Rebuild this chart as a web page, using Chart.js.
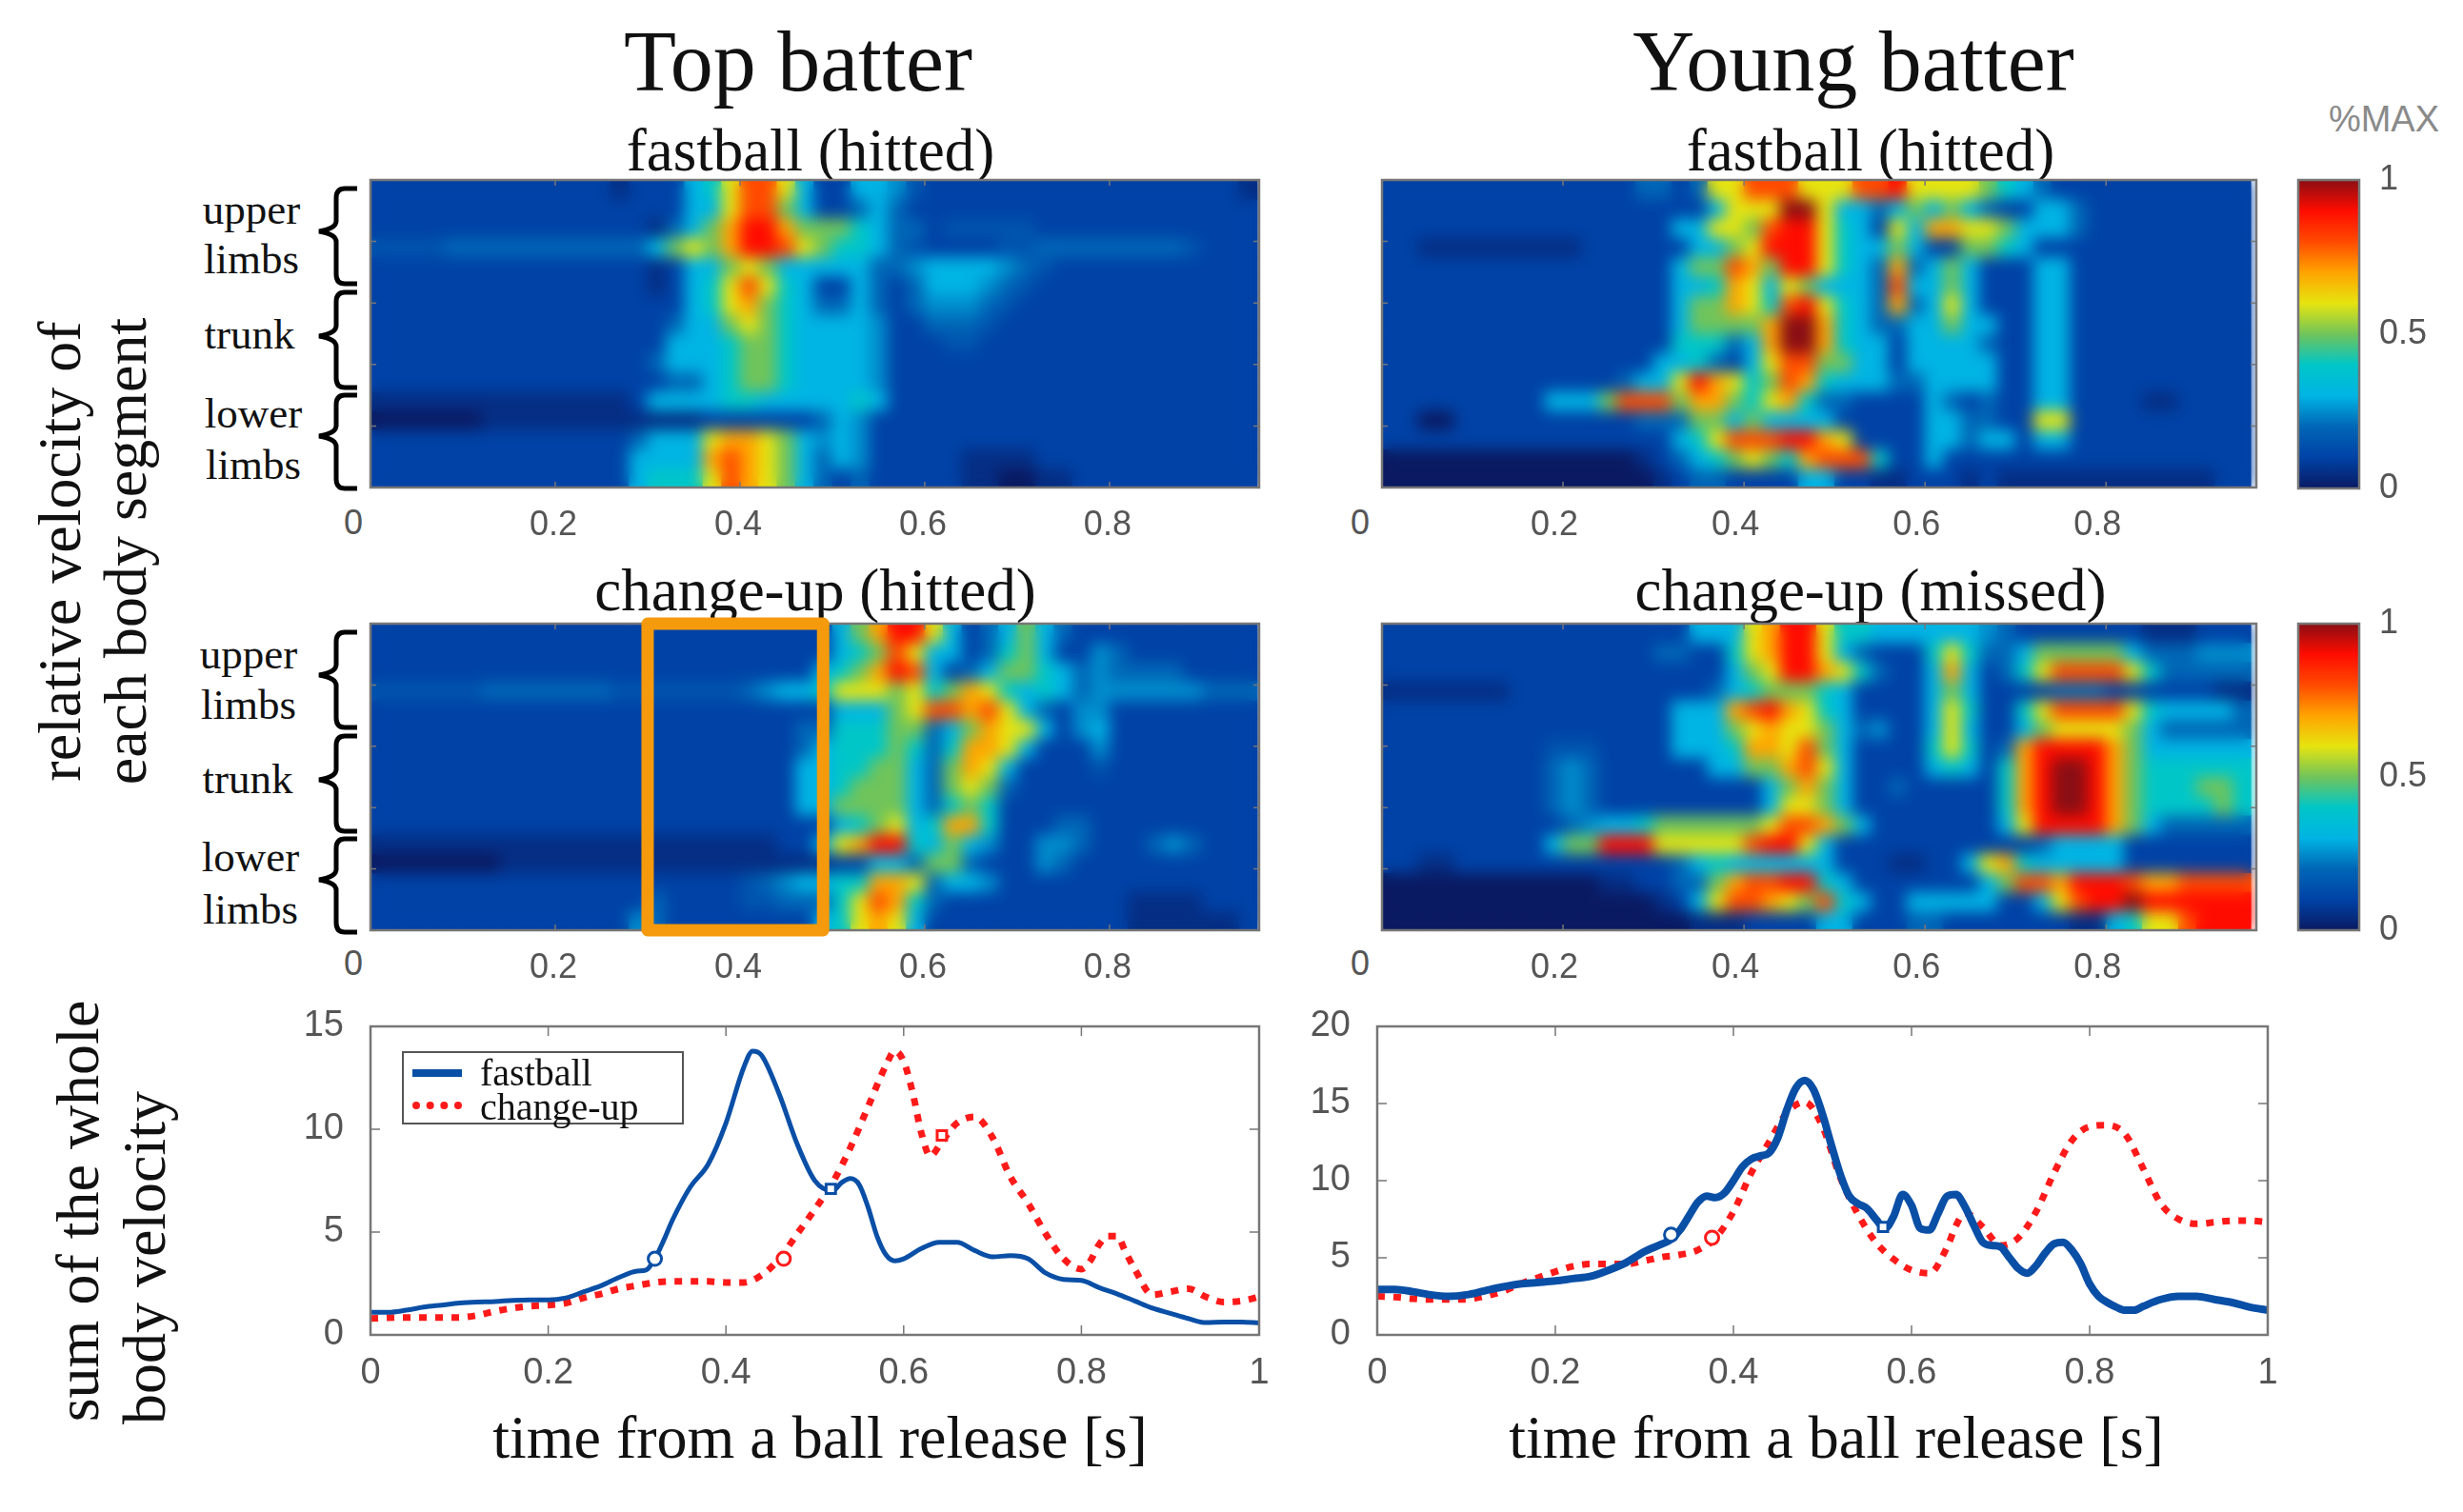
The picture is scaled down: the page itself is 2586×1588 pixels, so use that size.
<!DOCTYPE html>
<html>
<head>
<meta charset="utf-8">
<title>Top batter vs Young batter</title>
<script src="https://cdn.jsdelivr.net/npm/chart.js@4"></script>
<style>
html, body { margin:0; padding:0; background:#fff; overflow:hidden; }
#page { position:relative; width:2586px; height:1588px; font-family:"Liberation Serif",serif; color:#111; }
canvas { position:absolute; }
.t { position:absolute; transform:translate(-50%,-50%); white-space:nowrap; line-height:1; }
.v { position:absolute; transform:translate(-50%,-50%) rotate(-90deg); white-space:nowrap; line-height:1; font-size:64px; }
.main { font-size:90px; }
.sub { font-size:63px; }
.part { font-size:45px; }
.xt { font-size:64px; }
.zero { font-family:"Liberation Sans",sans-serif; font-size:36px; color:#555; }
#legendBox { position:absolute; left:422px; top:1104px; width:292px; height:73px; border:2px solid #555; background:#fff; }
#legendBox i { position:absolute; left:9px; width:52px; }
#legendBox span { position:absolute; left:80px; font-size:40px; line-height:1; }
svg { position:absolute; left:0; top:0; }
</style>
</head>
<body>
<div id="page">
  <svg width="2586" height="1588" fill="none" stroke="#000" stroke-width="5">
    <g id="braces">
      <path d="M375,198 H362 Q353,198 353,208 V232 Q353,240 335,243 Q353,246 353,254 V288 Q353,298 362,298 H375"/>
      <path d="M375,307 H362 Q353,307 353,317 V342 Q353,350 335,353 Q353,356 353,364 V397 Q353,407 362,407 H375"/>
      <path d="M375,415 H362 Q353,415 353,425 V447 Q353,455 335,458 Q353,461 353,469 V503 Q353,513 362,513 H375"/>
    </g>
    <use href="#braces" y="466"/>
  </svg>

  <div class="t main" style="left:838px;top:65px">Top batter</div>
  <div class="t main" style="left:1946px;top:65px">Young batter</div>
  <div class="t sub" style="left:851px;top:158px">fastball (hitted)</div>
  <div class="t sub" style="left:1964px;top:158px">fastball (hitted)</div>
  <div class="t sub" style="left:856px;top:620px">change-up (hitted)</div>
  <div class="t sub" style="left:1964px;top:620px">change-up (missed)</div>

  <div class="t part" style="left:264px;top:220px">upper</div>
  <div class="t part" style="left:264px;top:272px">limbs</div>
  <div class="t part" style="left:262px;top:351px">trunk</div>
  <div class="t part" style="left:266px;top:434px">lower</div>
  <div class="t part" style="left:266px;top:488px">limbs</div>
  <div class="t part" style="left:261px;top:687px">upper</div>
  <div class="t part" style="left:261px;top:740px">limbs</div>
  <div class="t part" style="left:260px;top:818px">trunk</div>
  <div class="t part" style="left:263px;top:900px">lower</div>
  <div class="t part" style="left:263px;top:955px">limbs</div>

  <div class="v" style="left:63px;top:579px">relative velocity of</div>
  <div class="v" style="left:132px;top:579px">each body segment</div>
  <div class="v" style="left:82px;top:1272px">sum of the whole</div>
  <div class="v" style="left:152px;top:1321px">body velocity</div>

  <div class="t xt" style="left:861px;top:1510px">time from a ball release [s]</div>
  <div class="t xt" style="left:1928px;top:1510px">time from a ball release [s]</div>

  <div class="t zero" style="left:371px;top:549px">0</div>
  <div class="t zero" style="left:1428px;top:549px">0</div>
  <div class="t zero" style="left:371px;top:1012px">0</div>
  <div class="t zero" style="left:1428px;top:1012px">0</div>

  <div class="t" style="left:2503px;top:125px;font-family:'Liberation Sans',sans-serif;font-size:38px;color:#8a8a8a">%MAX</div>

  <canvas id="heatTopFast"></canvas>
  <canvas id="heatYoungFast"></canvas>
  <canvas id="heatTopChange"></canvas>
  <canvas id="heatYoungChange"></canvas>
  <canvas id="barUpper"></canvas>
  <canvas id="barLower"></canvas>
  <canvas id="lineTop"></canvas>
  <canvas id="lineYoung"></canvas>

  <div id="legendBox">
    <i style="top:17px;height:8px;background:#0a4fa6"></i>
    <i style="top:51px;height:0;border-top:8px dotted #ff1a1a"></i>
    <span style="top:1px">fastball</span>
    <span style="top:37px">change-up</span>
  </div>
</div>

<script>
// colour of each %MAX level in tenths (0 = 0.0 ... 10 = 1.0)
const jetColors = [[10,26,98],[0,66,166],[0,102,182],[0,180,228],[0,198,200],[112,196,90],[230,228,16],[255,164,0],[255,74,0],[255,12,0],[138,14,20]];

// heatmaps: 16 body-segment rows, 48 time columns of 0.02 s, values in tenths of %MAX
const topFastCells = [
[1,1,1,1,1,1,1,1, 1,1,1,1,1,.5,1,1, 1,3,4,6,8,8,6,3, 1,1,3,3,2.5,1.5,1,1, 1,1,1,1,1,1,1,1, 1,1,1,1,1,1,1,.5],
[1,1,1,1,1,1,1,1, 1,1,1,1,1,1,1,1, 1,3,3,6,8,8,5,3, 1,1,2,3,2,1,1,1, 1,1,1,1,1,1,1,1, 1,1,1,1,1,1,1,1],
[1,1,1,1,1,1,1,1, 1,1,1,1,1,1,1,.5, 2,3,5,7,9,9,7,5, 5,5,4,3,2,2,1,1.5, 1.5,1.5,1.5,1.5,1,1,1,1, 1,1,1,1,1,1,1,1],
[1.5,1.5,1.5,1.5,2,2,2,2, 2,2,2,2,2,2,2,3, 5,6,5,7,9,9,8,6, 5,4,4,3,2,1.5,1,1, 1,1,1.5,1.5,2,2,2,2, 2,2,2,2,1.5,1,1,1],
[1,1,1,1,1,1,1,1, 1,1,1,1,1,1,1,.5, 1,3,3,5,6,5,3,3, 3,3,3,2,2,2.5,3,3, 3,3,2.5,2,1.5,1,1,1, 1,1,1,1,1,1,1,1],
[1,1,1,1,1,1,1,1, 1,1,1,1,1,1,1,.5, 1,3,4,6,8,6,4,3, 1,1,3,2,1,2,3,3, 3,2.5,2,1.5,1,1,1,1, 1,1,1,1,1,1,1,1],
[1,1,1,1,1,1,1,1, 1,1,1,1,1,1,1,1, 1,3,4,6,7,5,4,3, 2,2,3,2,1,2,2.5,2.5, 2.5,2,1.5,1,1,1,1,1, 1,1,1,1,1,1,1,1],
[1,1,1,1,1,1,1,1, 1,1,1,1,1,1,1,1, 2,3,3,5,6,5,4,3, 3,3,3,2.5,1,1,2,2, 2,1.5,1,1,1,1,1,1, 1,1,1,1,1,1,1,1],
[1,1,1,1,1,1,1,1, 1,1,1,1,1,1,1,1, 3,3,3,4,5,5,4,3, 3,3,3,2.5,1,1,1,1.5, 1.5,1,1,1,1,1,1,1, 1,1,1,1,1,1,1,1],
[1,1,1,1,1,1,1,1, 1,1,1,1,1,1,1,2, 3,3,3,4,5,5,4,3, 3,3,3,2.5,1,1,1,1, 1,1,1,1,1,1,1,1, 1,1,1,1,1,1,1,1],
[1,1,1,1,1,1,1,1, 1,1,1,1,1,1,1,1, 2,2,3,4,5,5,4,3, 3,3,3,2.5,1,1,1,1, 1,1,1,1,1,1,1,1, 1,1,1,1,1,1,1,1],
[.5,.5,.5,.5,.5,.5,.5,.5, .5,.5,.5,.5,.5,.5,1,3, 3,3,3,4,4,3,3,3, 3,3,4,3,1,1,1,1, 1,1,1,1,1,1,1,1, 1,1,1,1,1,1,1,1],
[0,0,0,0,0,0,.5,.5, .5,.5,.5,.5,.5,.5,.5,.5, .5,.5,1,1,1,1,1,1, 2,3,2.5,1,1,1,1,1, 1,1,1,1,1,1,1,1, 1,1,1,1,1,1,1,1],
[1,1,1,1,1,1,1,1, 1,1,1,1,1,1,2,3, 3,3,6,7,7,6,5,3, 2.5,3,2.5,1,1,1,1,1, 1,1,1,1,1,1,1,1, 1,1,1,1,1,1,1,1],
[1,1,1,1,1,1,1,1, 1,1,1,1,1,1,3,3, 3,3,7,8,7,6,5,3, 2,3,2.5,1,1,1,1,1, .5,.5,.5,.5,1,1,1,1, 1,1,1,1,1,1,1,1],
[1,1,1,1,1,1,1,1, 1,1,1,1,1,1,3,4, 4,4,6,8,7,6,5,3, 2,1,2,1,1,1,1,1, .5,.5,0,0,.5,.5,1,1, 1,1,1,1,1,1,1,1]
];
const youngFastCells = [
[1,1,1,1,1,1,1,1, 1,1,1,1,1,1,2,2, 1,2,6,6,8,8,8,6, 6,6,8,8,9,6,6,6, 6,5,4,3,2,1,1,1, 1,1,1,1,1,1,1,1],
[1,1,1,1,1,1,1,1, 1,1,1,1,1,1,1,1, 1,1,3,6,6,6,10,10, 6,3,3,2,3,5,3,5, 3,2,1,1,3,3,2,1, 1,1,1,1,1,1,1,1],
[1,1,1,1,1,1,1,1, 1,1,1,1,1,1,1,1, 3,3,6,6,5,8,9,9, 6,4,3,1,6,3,7,7, 6,6,5,3,3,3,2,1, 1,1,1,1,1,1,1,1],
[1,1,.5,.5,.5,.5,.5,.5, .5,.5,.5,1,1,1,1,1, 1,3,3,5,6,9,9,9, 6,4,3,3,5,3,1,1, 5,5,4,3,1,1,1,1, 1,1,1,1,1,1,1,1],
[1,1,1,1,1,1,1,1, 1,1,1,1,1,1,1,1, 3,5,5,8,7,5,9,9, 6,4,3,2,7,2,3,5, 3,1,1,1,3,3,1,1, 1,1,1,1,1,1,1,1],
[1,1,1,1,1,1,1,1, 1,1,1,1,1,1,1,1, 3,3,4,7,6,3,6,5, 3,3,3,2,8,3,3,5, 3,1,1,1,3,3,1,1, 1,1,1,1,1,1,1,1],
[1,1,1,1,1,1,1,1, 1,1,1,1,1,1,1,1, 3,5,5,7,6,4,8,9, 6,4,3,2,7,2,3,6, 3,1,1,1,3,3,1,1, 1,1,1,1,1,1,1,1],
[1,1,1,1,1,1,1,1, 1,1,1,1,1,1,1,1, 3,5,5,5,5,7,10,10, 7,4,3,2,2,3,3,5, 3,3,1,1,3,3,1,1, 1,1,1,1,1,1,1,1],
[1,1,1,1,1,1,1,1, 1,1,1,1,1,1,1,1, 4,4,4,2,3,7,10,10, 7,4,3,3,1,3,3,3, 3,2,1,1,3,3,1,1, 1,1,1,1,1,1,1,1],
[1,1,1,1,1,1,1,1, 1,1,1,1,1,1,1,3, 3,4,2,1,3,6,8,8, 5,5,3,3,1,3,3,3, 3,3,1,1,3,3,1,1, 1,1,1,1,1,1,1,1],
[1,1,1,1,1,1,1,1, 1,1,1,1,1,2,3,3, 6,9,7,6,4,5,8,7, 4,3,3,3,2,2,3,3, 3,3,1,1,3,3,1,1, 1,1,1,1,1,1,1,1],
[1,1,1,1,1,1,1,1, 1,3,3,3,5,8,8,8, 5,7,7,5,4,6,7,4, 2,2,1,1,1,1,3,2, 1,2,1,1,3,3,1,1, 1,1,.5,.5,1,1,1,1],
[1,1,0,0,1,1,1,1, 1,1,1,1,1,1,2,2, 2,5,5,3,5,3,3,3, 3,1,1,1,1,1,3,3, 2,2,1,1,6,6,1,1, 1,1,1,1,1,1,1,1],
[1,1,1,1,1,1,1,1, 1,1,1,1,1,1,1,1, 3,4,6,8,8,8,9,9, 7,6,1,1,1,1,3,3, 2,3,3,1,3,3,1,1, 1,1,1,1,1,1,1,1],
[0,0,0,0,0,0,0,0, 0,0,0,0,0,0,.5,1, 2,3,4,5,6,5,4,7, 8,8,8,4,1,1,3,1, 1,1,1,1,1,1,1,1, 1,1,1,1,1,1,1,1],
[0,0,0,0,0,0,0,0, 0,0,0,0,0,0,0,.5, 1,2,2,1,1,1,1,3, 3,1,1,.5,.5,1,1,1, .5,1,.5,.5,.5,.5,.5,.5, .5,.5,.5,.5,.5,.5,1,1]
];
const topChangeCells = [
[1,1,1,1,1,1,1,1, 1,1,1,1,1,1,1,1, 1,1,1,1,1,1,1,1, 1,3,5,7,9,9,6,3, 1,2,3,5,3,2,1,1, 1,1,1,1,1,1,1,1],
[1,1,1,1,1,1,1,1, 1,1,1,1,1,1,1,1, 1,1,1,1,1,1,1,1, 1,3,4,5,8,6,3,3, 1,2,4,5,3,1,1,2.5, 2,1,1,1,1,1,1,1],
[1,1,1,1,1,1,1,1, 1,1,1,1,1,1,1,1, 1,1,1,1,1,1,1,1, 3,4,5,7,9,8,3,1, 2,3,5,5,4,3,2,2.5, 2,2,2,2,1,1,1,1],
[1.5,1.5,1.5,1.5,1.5,1.5,2,2, 2,2,2,2,2,1.5,1.5,1.5, 1.5,1.5,1.5,1.5,2,2.5,3,3, 4,6,6,6,5,6,4,5, 7,6,4,3,4,3,2,2.5, 2.5,2.5,2.5,2.5,2.5,2,2,2],
[1,1,1,1,1,1,1,1, 1,1,1,1,1,1,1,1, 1,1,1,1,1,1,1,1, 1,3,3,3,5,6,8,8, 7,8,6,3,2,1,2.5,2.5, 1,1,1,1,1,1,1,1],
[1,1,1,1,1,1,1,1, 1,1,1,1,1,1,1,1, 1,1,1,1,1,1,1,2, 2,4,4,4,5,5,2,3, 5,7,6,6,3,1,2.5,3, 1,1,1,1,1,1,1,1],
[1,1,1,1,1,1,1,1, 1,1,1,1,1,1,1,1, 1,1,1,1,1,1,1,2, 3,4,4,4,5,4,2,4, 7,7,6,3,1,1,1,2.5, 1,1,1,1,1,1,1,1],
[1,1,1,1,1,1,1,1, 1,1,1,1,1,1,1,1, 1,1,1,1,1,1,1,3, 3,4,4,5,5,3,2,5, 7,6,3,1,1,1,1,1.5, 1,1,1,1,1,1,1,1],
[1,1,1,1,1,1,1,1, 1,1,1,1,1,1,1,1, 1,1,1,1,1,1,1,3, 3,4,5,5,5,3,2,5, 6,5,2,1,1,1,1,1, 1,1,1,1,1,1,1,1],
[1,1,1,1,1,1,1,1, 1,1,1,1,1,1,1,1, 1,1,1,1,1,1,1,3, 3,5,5,5,5,3,2,4, 5,4,1,1,1,1,1,1, 1,1,1,1,1,1,1,1],
[1,1,1,1,1,1,1,1, 1,1,1,1,1,1,1,1, 1,1,1,1,1,1,1,1, 1,3,4,5,6,3,4,7, 7,4,1,1,1,2,2,1, 1,1,1,1,1,1,1,1],
[.5,.5,.5,.5,.5,.5,.5,.5, .5,.5,.5,.5,.5,.5,.5,.5, .5,.5,.5,.5,.5,.5,1,1, 3,6,7,9,9,4,3,5, 3,2.5,1,1,2.5,2.5,2,1, 1,1,2,2.5,2,1,1,1],
[0,0,0,0,0,0,0,.5, .5,.5,.5,.5,.5,.5,.5,.5, .5,.5,.5,.5,.5,.5,.5,.5, .5,1,1,3,3,2,5,5, 2,1,1,1,2.5,2,1,1, 1,1,1,1,1,1,1,1],
[1,1,1,1,1,1,1,1, 1,1,1,1,1,1,1,1, 1,1,1,1,1.5,2,2.5,3, 3,4,4,7,7,6,2,3, 3,2.5,1,1,1,1,1,1, 1,1,1,1,1,1,1,1],
[1,1,1,1,1,1,1,1, 1,1,1,1,1,1,1,2, 1,1,1,1,1.5,1.5,2,2, 2,4,6,8,7,4,2,1, 1,1,1,1,1,1,1,1, 1,.5,.5,.5,.5,1,1,1],
[1,1,1,1,1,1,1,1, 1,1,1,1,1,1,2.5,2, 1,1,1,1,1,1,1,1, 3,4,6,7,6,3,1,1, 1,1,1,1,1,1,1,1, 1,.5,.5,.5,.5,.5,.5,1]
];
const youngChangeCells = [
[1,1,1,1,1,1,1,1, 1,1,1,1,1,1,1,1, 1,3,3,3,6,7,9,9, 6,4,4,3,3,3,3,3, 3,2.5,2,1,1,1,1,1, 1,1,.5,.5,.5,1,1,1],
[1,1,1,1,1,1,1,1, 1,1,1,1,1,1,1,2, 2,1,1,4,6,7,9,9, 6,3,2,1,1,1,4,6, 4,2,2,3,5,5,5,5, 5,3,2,2,2,2.5,2.5,2.5],
[1,1,1,1,1,1,1,1, 1,1,1,1,1,1,1,1, 1,1,1,3,5,6,9,9, 7,6,4,2,1,1,3,7, 3,1,2,4,6,8,8,8, 8,6,4,2,2,2,2,2],
[.5,.5,.5,.5,.5,.5,.5,1, 1,1,1,1,1,1,1,1, 1,1,2,3,4,5,5,5, 4,3,1,1,1,1,3,5, 3,1,1,1,1,2,2,2, 1,1,1,1,1,1,.5,.5],
[1,1,1,1,1,1,1,1, 1,1,1,1,1,1,1,1, 3,3,3,7,8,9,7,6, 4,3,1,1,1,1,3,6, 4,1,1,4,6,8,8,8, 8,6,4,3,3,3,3,2],
[1,1,1,1,1,1,1,1, 1,1,1,1,1,1,1,1, 3,3,3,5,6,7,6,6, 5,3,2,2.5,1,1,3,6, 3,1,1,3,5,6,6,6, 6,5,3,2,2,2,2,2],
[1,1,1,1,1,1,1,1, 1,1.5,1.5,1.5,1,1,1,1, 3,3,3,4,7,7,6,8, 5,3,1,1,1,1,4,6, 4,1,2,7,9,9,9,9, 7,5,3,3,3,3,3,3],
[1,1,1,1,1,1,1,1, 1,2,2.5,2,1,1,1,1, 1,1,3,3,5,5,7,8, 6,3,1,1,1,1,3,4, 3,1,4,7,9,10,10,9, 7,5,4,4,4,4,4,4],
[1,1,1,1,1,1,1,1, 1,2,2.5,2,1,1,1,1, 1,1,1,1,1,3,5,7, 5,3,1,1,2,1,1,1, 1,1,4,7,9,10,10,9, 7,5,4,4,4,5,5,4],
[1,1,1,1,1,1,1,1, 1,2,2.5,2,1,1,1,1, 1,1,1,1,1,3,6,6, 5,3,1,1,1,1,1,1, 1,1,4,7,9,10,10,9, 7,5,4,4,4,4,5,4],
[1,1,1,1,1,1,1,1, 1,1,2,2.5,3,3,4,5, 5,5,5,5,5,6,8,8, 7,5,3,1,1,1,1,1, 1,1,3,6,9,9,9,9, 7,5,3,2,2,2,2,2],
[1,1,1,1,1,1,1,1, 1,3,5,5,9,9,9,6, 6,6,6,6,8,9,9,6, 3,1,1,1,1,1,1,1, 1,1,1,1,2,3,3,3, 3,1,1,1,1,1,1,1],
[1,1,.5,.5,1,1,1,1, 1,1,1,1,1,1,1,1, 2,3,4,3,3,3,3,3, 3,1,1,1,.5,.5,1,1, 3,6,7,4,3,3,3,3, 3,1,1,1,1,1,1,1],
[0,0,0,0,0,0,0,0, 0,0,0,0,.5,.5,1,1, 2,2,5,7,8,8,9,9, 4,3,1,1,1,1,1,1, 1,3,5,8,8,7,9,9, 9,8,7,7,8,8,8,8],
[0,0,0,0,0,0,0,0, 0,0,0,0,0,0,0,.5, 1,3,6,8,8,7,6,5, 8,4,3,1,1,3,3,3, 3,3,1,1,3,6,8,9, 9,10,9,9,9,9,9,9],
[0,0,0,0,0,0,0,0, 0,0,0,0,0,0,0,0, 0,.5,.5,.5,1,1,1,1, 3,3,1,1,1,2,2,1, 1,1,1,1,1,1,.5,.5, 3,4,6,6,8,9,9,9]
];

// the time window outlined on the top batter's change-up map
const highlightWindow = [0.3, 0.49];

// summed velocity curves
const topFastTimes = [0,.02,.04,.06,.08,.1,.12,.14,.16,.18,.2,.22,.24,.26,.28,.3,.31,.32,.33,.34,.36,.38,.4,.42,.43,.44,.46,.48,.5,.52,.53,.54,.55,.56,.57,.58,.59,.6,.62,.64,.66,.68,.7,.72,.74,.76,.78,.8,.82,.84,.86,.88,.9,.92,.94,.96,.98,1];
const topFastValues = [1.1,1.1,1.2,1.35,1.45,1.55,1.6,1.62,1.68,1.7,1.7,1.8,2.1,2.4,2.8,3.1,3.15,3.7,4.6,5.6,7.2,8.3,10.3,13,13.8,13.6,11.7,9.3,7.5,7,7.4,7.6,7.3,6.2,4.8,3.9,3.6,3.7,4.2,4.5,4.5,4.1,3.8,3.85,3.7,3,2.7,2.65,2.3,2,1.65,1.3,1.05,.8,.6,.62,.62,.58];
const topChangeTimes = [0,.04,.08,.1,.12,.14,.16,.18,.2,.22,.24,.26,.28,.3,.32,.34,.36,.38,.4,.42,.44,.46,.48,.5,.52,.54,.56,.58,.59,.6,.61,.62,.63,.64,.65,.66,.68,.7,.72,.74,.76,.78,.8,.81,.82,.83,.84,.85,.86,.88,.9,.92,.94,.96,.98,1];
const topChangeValues = [.8,.85,.85,.85,.95,1.15,1.3,1.4,1.45,1.55,1.8,2,2.25,2.4,2.55,2.6,2.6,2.6,2.55,2.55,2.9,3.7,4.9,6.1,7.4,9.1,11.1,13.1,13.8,13.3,11.8,9.8,8.7,9.2,9.8,10.3,10.6,9.6,7.7,6.4,4.9,3.7,3.2,3.6,4.4,4.8,4.8,4,3.2,1.95,2.1,2.25,1.85,1.6,1.65,1.85];
const youngFastTimes = [0,.02,.04,.06,.08,.1,.12,.14,.16,.18,.2,.22,.24,.26,.28,.3,.32,.33,.34,.35,.36,.37,.38,.39,.4,.41,.42,.43,.44,.45,.46,.47,.48,.49,.5,.51,.52,.53,.54,.55,.56,.57,.58,.59,.6,.61,.62,.63,.64,.65,.66,.67,.68,.69,.7,.71,.72,.73,.74,.75,.76,.77,.78,.79,.8,.81,.82,.83,.84,.85,.86,.88,.9,.92,.94,.96,.98,1];
const youngFastValues = [2.95,2.95,2.8,2.6,2.5,2.6,2.85,3.1,3.3,3.4,3.5,3.65,3.8,4.2,4.7,5.4,5.9,6.2,6.8,7.7,8.6,9,8.9,9.2,10,10.9,11.4,11.6,11.8,12.8,14.6,16,16.5,15.9,14.3,12.3,10.4,9,8.5,8.2,7.5,6.9,7.7,9.1,8.4,6.9,6.8,7.9,9,9.1,8.3,7.1,6,5.8,5.7,5,4.3,4,4.5,5.3,5.9,6,5.5,4.6,3.3,2.5,2.1,1.8,1.6,1.6,1.85,2.3,2.5,2.5,2.3,2.1,1.8,1.6];
const youngChangeTimes = [0,.02,.04,.06,.08,.1,.12,.14,.16,.18,.2,.22,.24,.26,.28,.3,.32,.34,.36,.38,.4,.42,.44,.46,.48,.5,.52,.54,.56,.58,.6,.62,.64,.65,.66,.68,.7,.72,.74,.76,.78,.8,.82,.84,.86,.88,.9,.92,.94,.96,.98,1];
const youngChangeValues = [2.5,2.45,2.35,2.3,2.3,2.3,2.5,2.8,3.3,3.7,4.1,4.45,4.6,4.6,4.6,4.8,5.05,5.2,5.5,6.3,8,10.5,12.5,14.4,15.1,13.5,10.2,7.8,6,4.9,4.2,4,5.7,7.1,7.9,7,5.8,6.3,8,10.5,12.6,13.5,13.6,13,10.8,8.5,7.5,7.2,7.3,7.4,7.4,7.3];

// movement onset (circle) and ball contact (square) marks on the curves
const topFastMarks = [[.32,3.7],[.518,7.1]];
const topChangeMarks = [[.465,3.7],[.643,9.7]];
const youngFastMarks = [[.33,6.5],[.568,7]];
const youngChangeMarks = [[.376,6.3]];

const TICK_FONT = { family:'"Liberation Sans",sans-serif' };
const TICK_COLOR = '#555';
const shortTick = v => String(+v.toFixed(1));

// half levels sit between two neighbouring colours
function levelColor(v) {
    const lo = Math.floor(v), hi = Math.min(lo + 1, 10), f = v - lo;
    const c = jetColors[lo].map((ch, i) => Math.round(ch + (jetColors[hi][i] - ch) * f));
    return `rgb(${c[0]},${c[1]},${c[2]})`;
}

// place a canvas so that its plot area lands on a known rectangle of the page
function place(id, left, top, width, height) {
    const c = document.getElementById(id);
    c.width = width; c.height = height;
    c.style.left = left + 'px'; c.style.top = top + 'px';
    c.style.width = width + 'px'; c.style.height = height + 'px';
    return c;
}

// fixed axis sizes, and no extra room for labels that hang over the plot ends
const fixHeight = h => s => { s.height = h; s.paddingLeft = 0; s.paddingRight = 0; };
const fixWidth = w => s => { s.width = w; s.paddingTop = 0; s.paddingBottom = 0; };

// grey box with small inward ticks like the original plots
const framePlugin = {
    id:'frame',
    afterDraw(chart, args, opts) {
        const { ctx, chartArea:a, scales } = chart;
        ctx.save();
        ctx.strokeStyle = opts.color || '#777';
        ctx.lineWidth = opts.width || 2.5;
        ctx.strokeRect(a.left, a.top, a.width, a.height);
        ctx.lineWidth = 1.5;
        const len = opts.len === undefined ? 8 : opts.len;
        ctx.beginPath();
        if (scales.x && len) scales.x.ticks.forEach(t => {
            const x = scales.x.getPixelForValue(t.value);
            ctx.moveTo(x, a.top); ctx.lineTo(x, a.top + len);
            ctx.moveTo(x, a.bottom); ctx.lineTo(x, a.bottom - len);
        });
        if (scales.y && len) scales.y.ticks.forEach(t => {
            const y = scales.y.getPixelForValue(t.value);
            ctx.moveTo(a.left, y); ctx.lineTo(a.left + len, y);
            ctx.moveTo(a.right, y); ctx.lineTo(a.right - len, y);
        });
        ctx.stroke();
        ctx.restore();
    }
};

// the maps are smooth in the original, so soften the cells once they are drawn
const softenPlugin = {
    id:'soften',
    afterDatasetsDraw(chart) {
        const { ctx, chartArea:a, canvas } = chart;
        const r = chart.currentDevicePixelRatio;
        ctx.save();
        ctx.beginPath();
        ctx.rect(a.left, a.top, a.width, a.height);
        ctx.clip();
        ctx.filter = 'blur(8px)';
        ctx.drawImage(canvas, a.left*r, a.top*r, a.width*r, a.height*r, a.left, a.top, a.width, a.height);
        ctx.restore();
    }
};

const windowPlugin = {
    id:'timeWindow',
    afterDraw(chart, args, opts) {
        if (!opts.range) return;
        const { ctx, chartArea:a, scales } = chart;
        const x0 = scales.x.getPixelForValue(opts.range[0]);
        const x1 = scales.x.getPixelForValue(opts.range[1]);
        ctx.save();
        ctx.strokeStyle = '#f59a0c';
        ctx.lineWidth = 13;
        ctx.lineJoin = 'round';
        ctx.strokeRect(x0, a.top, x1 - x0, a.height);
        ctx.restore();
    }
};

function heatChart(id, cells, left, top, width, height, xMax, labelOffset, range) {
    const canvas = place(id, left - 50, top - 20, width + 100, height + 100);
    new Chart(canvas, {
        type:'bar',
        data:{
            datasets: cells.map(row => ({
                data: row.map((v, c) => ({ x:(c + 0.5) * 0.02, y:1 })),
                backgroundColor: row.map(levelColor),
                barPercentage:1, categoryPercentage:1, borderWidth:0
            }))
        },
        options:{
            responsive:false, animation:false, devicePixelRatio:1,
            layout:{ padding:{ top:20, right:50 } },
            plugins:{ legend:{ display:false }, tooltip:{ enabled:false }, frame:{ len:6 }, timeWindow:{ range } },
            scales:{
                x:{ type:'linear', offset:false, stacked:true, min:0, max:xMax, grid:{ display:false }, border:{ display:false },
                    afterFit: fixHeight(80),
                    ticks:{ stepSize:0.2, includeBounds:false, autoSkip:false, maxRotation:0, labelOffset, padding:10, color:TICK_COLOR,
                        font:{ ...TICK_FONT, size:36 }, callback: v => v === 0 ? '' : shortTick(v) } },
                y:{ stacked:true, reverse:true, min:0, max:16, grid:{ display:false }, border:{ display:false },
                    afterFit: fixWidth(50),
                    ticks:{ display:false, stepSize:3.2 } }
            }
        },
        plugins:[softenPlugin, framePlugin, windowPlugin]
    });
}

function colorBar(id, top, height) {
    const canvas = place(id, 2403, top - 20, 183, height + 50);
    new Chart(canvas, {
        type:'bar',
        data:{ labels:['%MAX'], datasets:[{
            data:[1], barPercentage:1, categoryPercentage:1, borderWidth:0,
            backgroundColor(ctx) {
                const a = ctx.chart.chartArea;
                if (!a) return levelColor(0);
                const g = ctx.chart.ctx.createLinearGradient(0, a.bottom, 0, a.top);
                jetColors.forEach((col, i) => g.addColorStop(i / 10, levelColor(i)));
                return g;
            }
        }] },
        options:{
            responsive:false, animation:false, devicePixelRatio:1,
            layout:{ padding:{ left:10, top:20, bottom:30 } },
            plugins:{ legend:{ display:false }, tooltip:{ enabled:false }, frame:{ len:0 } },
            scales:{
                x:{ display:false },
                y:{ position:'right', min:0, max:1, grid:{ display:false }, border:{ display:false },
                    afterFit: fixWidth(109),
                    ticks:{ stepSize:0.5, padding:13, color:TICK_COLOR, font:{ ...TICK_FONT, size:36 }, callback:shortTick } }
            }
        },
        plugins:[framePlugin]
    });
}

function curve(times, values, color, width, dash) {
    return { data: times.map((t, i) => ({ x:t, y:values[i] })), borderColor:color, borderWidth:width, borderDash:dash,
        pointRadius:0, cubicInterpolationMode:'monotone', fill:false };
}

function marks(points, color) {
    return { data: points.map(p => ({ x:p[0], y:p[1] })), showLine:false, borderColor:color, backgroundColor:'#fff',
        pointBorderWidth:3, pointRadius:7, pointStyle:['circle','rect'] };
}

function lineChart(id, left, top, width, height, yMax, yStep, datasets) {
    const canvas = place(id, left - 100, top - 20, width + 130, height + 100);
    new Chart(canvas, {
        type:'line',
        data:{ datasets },
        options:{
            responsive:false, animation:false, devicePixelRatio:1,
            layout:{ padding:{ top:20, right:30 } },
            plugins:{ legend:{ display:false }, tooltip:{ enabled:false }, frame:{ len:10 } },
            scales:{
                x:{ type:'linear', min:0, max:1, grid:{ display:false }, border:{ display:false },
                    afterFit: fixHeight(80),
                    ticks:{ stepSize:0.2, maxRotation:0, padding:10, color:TICK_COLOR, font:{ ...TICK_FONT, size:38 }, callback:shortTick } },
                y:{ min:0, max:yMax, grid:{ display:false }, border:{ display:false },
                    afterFit: fixWidth(100),
                    ticks:{ stepSize:yStep, padding:20, color:TICK_COLOR, font:{ ...TICK_FONT, size:38 } } }
            }
        },
        plugins:[framePlugin]
    });
}

const BLUE = '#0a4fa6', RED = '#ff1a1a';

heatChart('heatTopFast', topFastCells, 389, 189, 933, 323, 0.962, -2);
heatChart('heatYoungFast', youngFastCells, 1451, 189, 918, 323, 0.966, -9);
heatChart('heatTopChange', topChangeCells, 389, 655, 933, 322, 0.962, -2, highlightWindow);
heatChart('heatYoungChange', youngChangeCells, 1451, 655, 918, 322, 0.966, -9);
colorBar('barUpper', 189, 324);
colorBar('barLower', 655, 322);

lineChart('lineTop', 389, 1078, 933, 324, 15, 5, [
    marks(topFastMarks, BLUE), marks(topChangeMarks, RED),
    curve(topFastTimes, topFastValues, BLUE, 5),
    curve(topChangeTimes, topChangeValues, RED, 7, [8, 9])
]);
lineChart('lineYoung', 1446, 1078, 935, 324, 20, 5, [
    marks(youngFastMarks, BLUE), marks(youngChangeMarks, RED),
    curve(youngFastTimes, youngFastValues, BLUE, 8),
    curve(youngChangeTimes, youngChangeValues, RED, 7, [8, 9])
]);
</script>
</body>
</html>
